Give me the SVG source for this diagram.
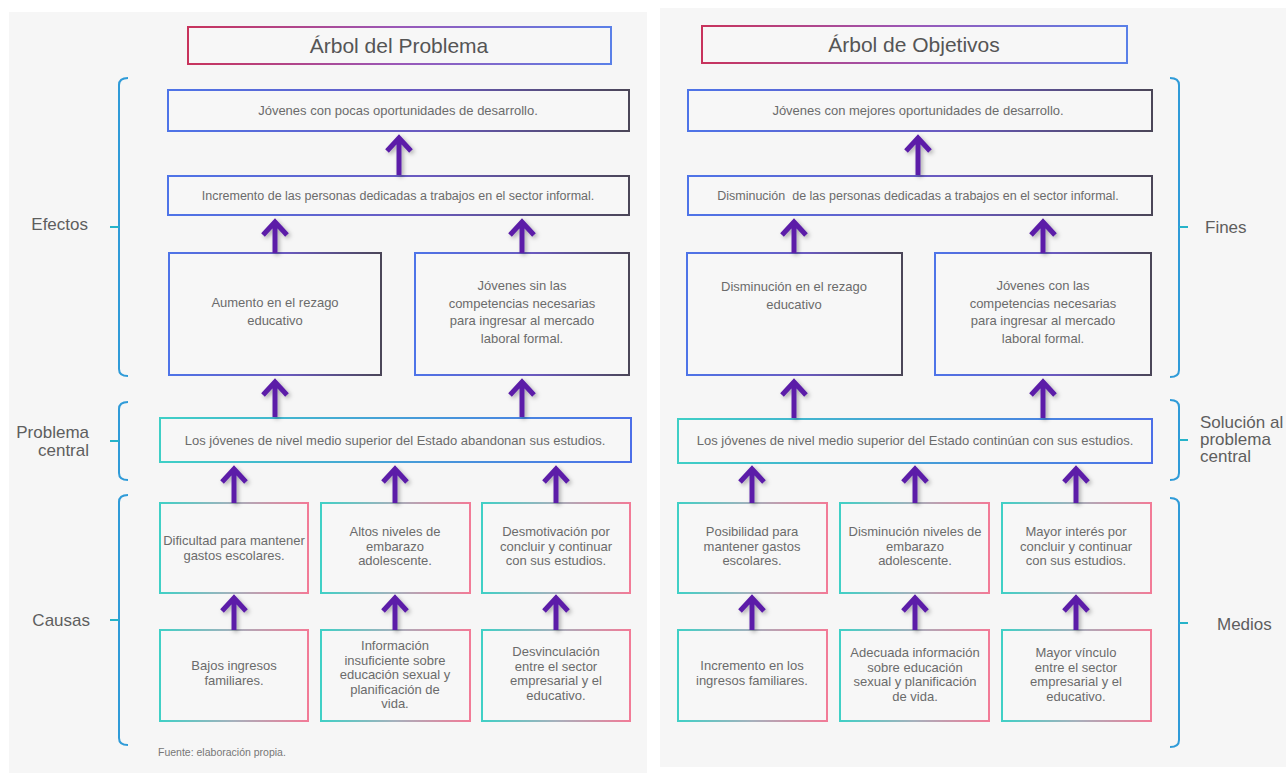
<svg xmlns="http://www.w3.org/2000/svg" width="1286" height="773" viewBox="0 0 1286 773">
  <style>
    .panel { fill: #f6f6f6; }
    .box { fill: #f7f7f7; stroke-width: 2; }
    .title { stroke: url(#gTitle); }
    .effect { stroke: url(#gEffect); }
    .central { stroke: url(#gCentral); }
    .cause { stroke: url(#gCause); }
    .t { font-family: "Liberation Sans", Arial, sans-serif; fill: #6b6b6b; text-anchor: middle; }
    .tt { font-family: "Liberation Sans", Arial, sans-serif; fill: #555; font-size: 21px; text-anchor: middle; }
    .lbl { font-family: "Liberation Sans", Arial, sans-serif; fill: #5e5e5e; font-size: 17px; }
    .brace { fill: none; stroke: #2f9bd8; stroke-width: 2; }
    .tick { fill: none; stroke: #26b3c9; stroke-width: 2; }
    .arrow { fill: none; stroke: #5b1fa8; stroke-width: 5; stroke-linejoin: miter; filter: url(#shadow); }
  </style>
  <defs>
    <linearGradient id="gTitle" x1="0" y1="0" x2="1" y2="0">
      <stop offset="0" stop-color="#c8335c"/>
      <stop offset="0.5" stop-color="#9a58b8"/>
      <stop offset="1" stop-color="#5a80e8"/>
    </linearGradient>
    <linearGradient id="gEffect" x1="0" y1="0" x2="1" y2="0">
      <stop offset="0" stop-color="#4e74e8"/>
      <stop offset="0.55" stop-color="#6a5ac0"/>
      <stop offset="1" stop-color="#4b4658"/>
    </linearGradient>
    <linearGradient id="gCentral" x1="0" y1="0" x2="1" y2="0">
      <stop offset="0" stop-color="#3fcfc6"/>
      <stop offset="1" stop-color="#4c6fe8"/>
    </linearGradient>
    <linearGradient id="gCause" x1="0" y1="0" x2="1" y2="0">
      <stop offset="0" stop-color="#40d0c6"/>
      <stop offset="0.5" stop-color="#a6b0bc"/>
      <stop offset="1" stop-color="#f27b97"/>
    </linearGradient>
    <filter id="shadow" x="-50%" y="-30%" width="200%" height="160%">
      <feDropShadow dx="2" dy="2" stdDeviation="2" flood-color="#000" flood-opacity="0.3"/>
    </filter>
  </defs>

  <rect width="1286" height="773" fill="#ffffff"/>
  <rect class="panel" x="9" y="12" width="638" height="761"/>
  <rect class="panel" x="660" y="8" width="626" height="759"/>

  <!-- Left tree: Árbol del Problema -->
  <g id="titleProblema">
    <rect class="box title" x="188" y="27" width="423" height="37"/>
    <text class="tt" x="399" y="53">Árbol del Problema</text>
  </g>
  <g id="p-e1">
    <rect class="box effect" x="168" y="90" width="461" height="41"/>
    <text class="t" font-size="13" x="398" y="115">Jóvenes con pocas oportunidades de desarrollo.</text>
  </g>
  <g id="p-e2">
    <rect class="box effect" x="168" y="176" width="461" height="39"/>
    <text class="t" font-size="12.5" x="398" y="200">Incremento de las personas dedicadas a trabajos en el sector informal.</text>
  </g>
  <g id="p-e3">
    <rect class="box effect" x="169" y="253" width="212" height="122"/>
    <text class="t" font-size="13" x="275" y="307"><tspan x="275">Aumento en el rezago</tspan><tspan x="275" dy="17.5">educativo</tspan></text>
  </g>
  <g id="p-e4">
    <rect class="box effect" x="415" y="253" width="214" height="122"/>
    <text class="t" font-size="13" x="522" y="290"><tspan x="522">Jóvenes sin las</tspan><tspan x="522" dy="17.5">competencias necesarias</tspan><tspan x="522" dy="17.5">para ingresar al mercado</tspan><tspan x="522" dy="17.5">laboral formal.</tspan></text>
  </g>
  <g id="p-central">
    <rect class="box central" x="160" y="418" width="471" height="44"/>
    <text class="t" font-size="13" x="395" y="445">Los jóvenes de nivel medio superior del Estado abandonan sus estudios.</text>
  </g>
  <g id="p-c1">
    <rect class="box cause" x="160" y="503" width="148" height="90"/>
    <text class="t" font-size="13" x="234" y="545"><tspan x="234">Dificultad para mantener</tspan><tspan x="234" dy="15">gastos escolares.</tspan></text>
  </g>
  <g id="p-c2">
    <rect class="box cause" x="321" y="503" width="149" height="90"/>
    <text class="t" font-size="13" x="395" y="536"><tspan x="395">Altos niveles de</tspan><tspan x="395" dy="14.5">embarazo</tspan><tspan x="395" dy="14.5">adolescente.</tspan></text>
  </g>
  <g id="p-c3">
    <rect class="box cause" x="482" y="503" width="148" height="90"/>
    <text class="t" font-size="13" x="556" y="536"><tspan x="556">Desmotivación por</tspan><tspan x="556" dy="14.5">concluir y continuar</tspan><tspan x="556" dy="14.5">con sus estudios.</tspan></text>
  </g>
  <g id="p-r1">
    <rect class="box cause" x="160" y="630" width="148" height="91"/>
    <text class="t" font-size="13" x="234" y="670"><tspan x="234">Bajos ingresos</tspan><tspan x="234" dy="14.5">familiares.</tspan></text>
  </g>
  <g id="p-r2">
    <rect class="box cause" x="321" y="630" width="149" height="91"/>
    <text class="t" font-size="13" x="395" y="650"><tspan x="395">Información</tspan><tspan x="395" dy="14.5">insuficiente sobre</tspan><tspan x="395" dy="14.5">educación sexual y</tspan><tspan x="395" dy="14.5">planificación de</tspan><tspan x="395" dy="14.5">vida.</tspan></text>
  </g>
  <g id="p-r3">
    <rect class="box cause" x="482" y="630" width="148" height="91"/>
    <text class="t" font-size="13" x="556" y="656"><tspan x="556">Desvinculación</tspan><tspan x="556" dy="14.5">entre el sector</tspan><tspan x="556" dy="14.5">empresarial y el</tspan><tspan x="556" dy="14.5">educativo.</tspan></text>
  </g>

  <!-- Left side labels and braces -->
  <g id="p-efectos">
    <path class="brace" d="M128,78 Q119,78 119,85 L119,369 Q119,376 128,376"/>
    <path class="tick" d="M119,227 L110,227"/>
    <text class="lbl" x="88" y="230" text-anchor="end">Efectos</text>
  </g>
  <g id="p-problema">
    <path class="brace" d="M128,402 Q119,402 119,409 L119,473 Q119,480 128,480"/>
    <path class="tick" d="M119,441 L110,441"/>
    <text class="lbl" x="89" y="438" text-anchor="end"><tspan x="89">Problema</tspan><tspan x="89" dy="18">central</tspan></text>
  </g>
  <g id="p-causas">
    <path class="brace" d="M128,495 Q119,495 119,502 L119,738 Q119,745 128,745"/>
    <path class="tick" d="M119,620 L110,620"/>
    <text class="lbl" x="90" y="626" text-anchor="end">Causas</text>
  </g>
  <g id="fuente">
    <text x="158" y="756" font-family="Liberation Sans, Arial, sans-serif" font-size="10.5" fill="#777">Fuente: elaboración propia.</text>
  </g>

  <!-- Right tree: Árbol de Objetivos -->
  <g id="titleObjetivos">
    <rect class="box title" x="702" y="26" width="425" height="37"/>
    <text class="tt" x="914" y="52">Árbol de Objetivos</text>
  </g>
  <g id="o-e1">
    <rect class="box effect" x="688" y="90" width="464" height="41"/>
    <text class="t" font-size="13" x="918" y="115">Jóvenes con mejores oportunidades de desarrollo.</text>
  </g>
  <g id="o-e2">
    <rect class="box effect" x="688" y="176" width="464" height="39"/>
    <text class="t" font-size="12.5" x="918" y="200" xml:space="preserve">Disminución  de las personas dedicadas a trabajos en el sector informal.</text>
  </g>
  <g id="o-e3">
    <rect class="box effect" x="687" y="253" width="215" height="122"/>
    <text class="t" font-size="13" x="794" y="291"><tspan x="794">Disminución en el rezago</tspan><tspan x="794" dy="17.5">educativo</tspan></text>
  </g>
  <g id="o-e4">
    <rect class="box effect" x="935" y="253" width="216" height="122"/>
    <text class="t" font-size="13" x="1043" y="290"><tspan x="1043">Jóvenes con las</tspan><tspan x="1043" dy="17.5">competencias necesarias</tspan><tspan x="1043" dy="17.5">para ingresar al mercado</tspan><tspan x="1043" dy="17.5">laboral formal.</tspan></text>
  </g>
  <g id="o-central">
    <rect class="box central" x="678" y="419" width="474" height="44"/>
    <text class="t" font-size="13" x="915" y="445">Los jóvenes de nivel medio superior del Estado continúan con sus estudios.</text>
  </g>
  <g id="o-c1">
    <rect class="box cause" x="678" y="503" width="149" height="90"/>
    <text class="t" font-size="13" x="752" y="536"><tspan x="752">Posibilidad para</tspan><tspan x="752" dy="14.5">mantener gastos</tspan><tspan x="752" dy="14.5">escolares.</tspan></text>
  </g>
  <g id="o-c2">
    <rect class="box cause" x="840" y="503" width="149" height="90"/>
    <text class="t" font-size="13" x="915" y="536"><tspan x="915">Disminución niveles de</tspan><tspan x="915" dy="14.5">embarazo</tspan><tspan x="915" dy="14.5">adolescente.</tspan></text>
  </g>
  <g id="o-c3">
    <rect class="box cause" x="1002" y="503" width="149" height="90"/>
    <text class="t" font-size="13" x="1076" y="536"><tspan x="1076">Mayor interés por</tspan><tspan x="1076" dy="14.5">concluir y continuar</tspan><tspan x="1076" dy="14.5">con sus estudios.</tspan></text>
  </g>
  <g id="o-r1">
    <rect class="box cause" x="678" y="630" width="149" height="91"/>
    <text class="t" font-size="13" x="752" y="670"><tspan x="752">Incremento en los</tspan><tspan x="752" dy="14.5">ingresos familiares.</tspan></text>
  </g>
  <g id="o-r2">
    <rect class="box cause" x="840" y="630" width="149" height="91"/>
    <text class="t" font-size="13" x="915" y="657"><tspan x="915">Adecuada información</tspan><tspan x="915" dy="14.5">sobre educación</tspan><tspan x="915" dy="14.5">sexual y planificación</tspan><tspan x="915" dy="14.5">de vida.</tspan></text>
  </g>
  <g id="o-r3">
    <rect class="box cause" x="1002" y="630" width="149" height="91"/>
    <text class="t" font-size="13" x="1076" y="657"><tspan x="1076">Mayor vínculo</tspan><tspan x="1076" dy="14.5">entre el sector</tspan><tspan x="1076" dy="14.5">empresarial y el</tspan><tspan x="1076" dy="14.5">educativo.</tspan></text>
  </g>

  <!-- Right side labels and braces -->
  <g id="o-fines">
    <path class="brace" d="M1170,78 Q1179,78 1179,85 L1179,370 Q1179,377 1170,377"/>
    <path class="tick" d="M1179,227 L1188,227"/>
    <text class="lbl" x="1205" y="233">Fines</text>
  </g>
  <g id="o-solucion">
    <path class="brace" d="M1170,400 Q1179,400 1179,407 L1179,473 Q1179,480 1170,480"/>
    <path class="tick" d="M1179,440 L1188,440"/>
    <text class="lbl" x="1200" y="428"><tspan x="1200">Solución al</tspan><tspan x="1200" dy="17">problema</tspan><tspan x="1200" dy="17">central</tspan></text>
  </g>
  <g id="o-medios">
    <path class="brace" d="M1170,498 Q1179,498 1179,505 L1179,740 Q1179,747 1170,747"/>
    <path class="tick" d="M1179,623 L1188,623"/>
    <text class="lbl" x="1217" y="630">Medios</text>
  </g>

  <!-- Connectors: upward arrows -->
  <g id="connectors">
    <path class="arrow" d="M399,175 V138 M387,151 L399,138 L411,151"/>
    <path class="arrow" d="M275,253 V222 M263,235 L275,222 L287,235"/>
    <path class="arrow" d="M522,253 V222 M510,235 L522,222 L534,235"/>
    <path class="arrow" d="M275,417 V382 M263,395 L275,382 L287,395"/>
    <path class="arrow" d="M522,417 V382 M510,395 L522,382 L534,395"/>
    <path class="arrow" d="M234,503 V469 M222,482 L234,469 L246,482"/>
    <path class="arrow" d="M395,503 V469 M383,482 L395,469 L407,482"/>
    <path class="arrow" d="M556,503 V469 M544,482 L556,469 L568,482"/>
    <path class="arrow" d="M234,630 V598 M222,611 L234,598 L246,611"/>
    <path class="arrow" d="M395,630 V598 M383,611 L395,598 L407,611"/>
    <path class="arrow" d="M556,630 V598 M544,611 L556,598 L568,611"/>

    <path class="arrow" d="M918,175 V138 M906,151 L918,138 L930,151"/>
    <path class="arrow" d="M794,253 V222 M782,235 L794,222 L806,235"/>
    <path class="arrow" d="M1043,253 V222 M1031,235 L1043,222 L1055,235"/>
    <path class="arrow" d="M794,418 V382 M782,395 L794,382 L806,395"/>
    <path class="arrow" d="M1043,418 V382 M1031,395 L1043,382 L1055,395"/>
    <path class="arrow" d="M752,503 V469 M740,482 L752,469 L764,482"/>
    <path class="arrow" d="M915,503 V469 M903,482 L915,469 L927,482"/>
    <path class="arrow" d="M1076,503 V469 M1064,482 L1076,469 L1088,482"/>
    <path class="arrow" d="M752,630 V598 M740,611 L752,598 L764,611"/>
    <path class="arrow" d="M915,630 V598 M903,611 L915,598 L927,611"/>
    <path class="arrow" d="M1076,630 V598 M1064,611 L1076,598 L1088,611"/>
  </g>
</svg>
